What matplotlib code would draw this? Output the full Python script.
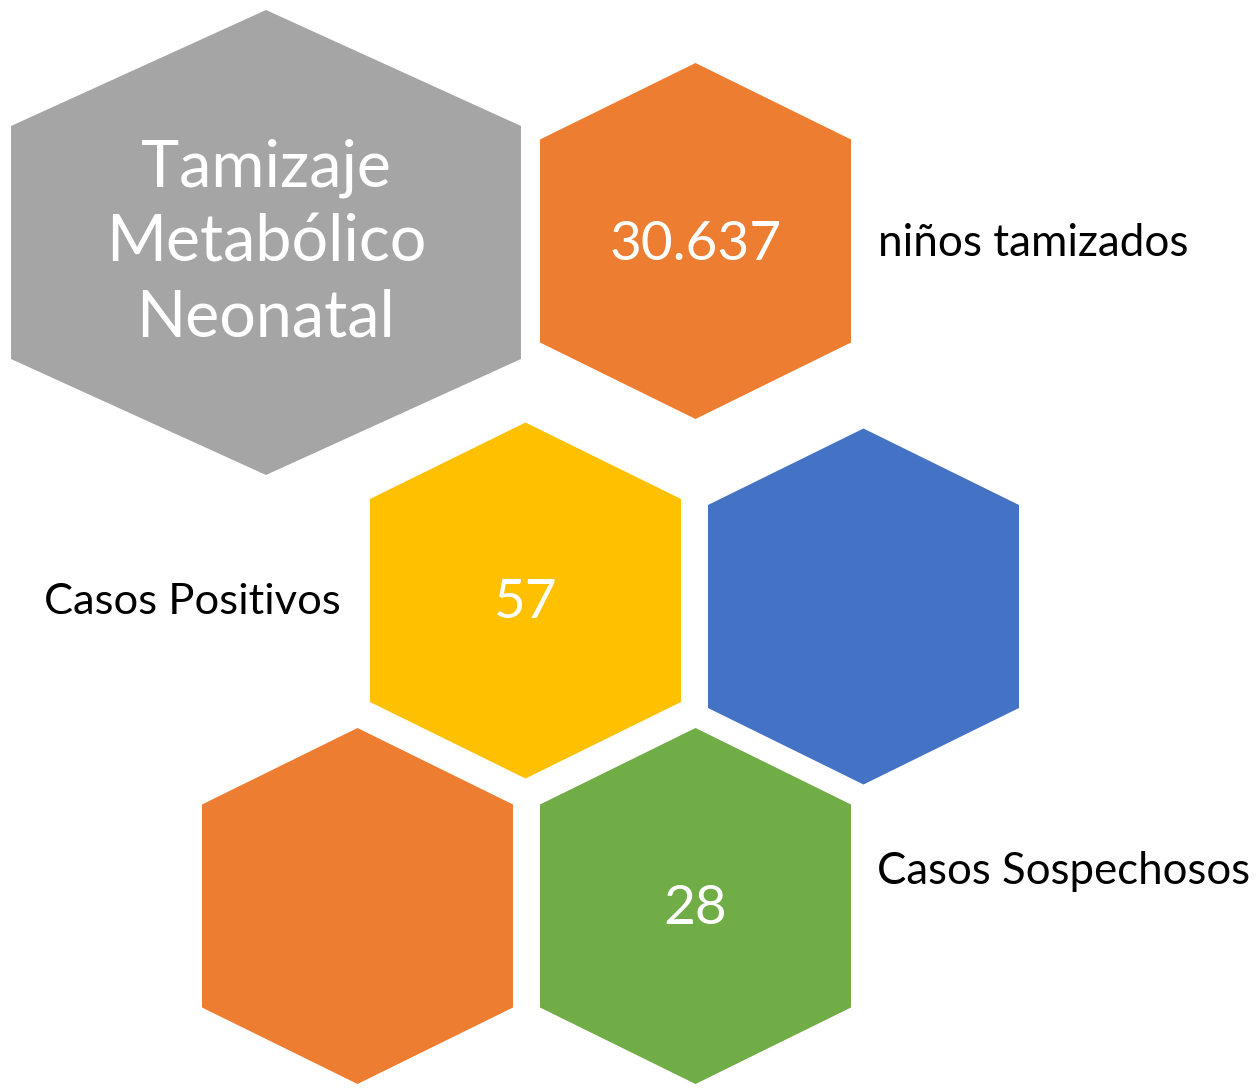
import matplotlib.pyplot as plt
from matplotlib.patches import Polygon

plt.rcParams['font.family'] = ['Lato', 'DejaVu Sans']

title_lines = ["Tamizaje", "Metabólico", "Neonatal"]
values = ["30.637", "57", "28"]
captions = ["niños tamizados", "Casos Positivos", "Casos Sospechosos"]
colors = ["#A5A5A5", "#ED7D31", "#FFC000", "#4472C4", "#ED7D31", "#70AD47"]


def hexagon(ax, cx, cy, hw, hh, side, color):
    # pointy-top hexagon in pixel coords (y down)
    pts = [(cx, cy - hh), (cx + hw, cy - side), (cx + hw, cy + side),
           (cx, cy + hh), (cx - hw, cy + side), (cx - hw, cy - side)]
    ax.add_patch(Polygon(pts, closed=True, facecolor=color, edgecolor="none"))


W, H = 1256, 1088
fig = plt.figure(figsize=(W / 100, H / 100), dpi=100)
ax = fig.add_axes([0, 0, 1, 1])
ax.set_xlim(0, W)
ax.set_ylim(H, 0)
ax.axis("off")

# big grey hexagon
hexagon(ax, 266, 242.5, 255, 232.5, 116.5, colors[0])
# small hexagons: centres
small = [(695.5, 241), (525.5, 600.5), (863.5, 606.5), (357.5, 906), (695.5, 906)]
for (cx, cy), c in zip(small, colors[1:]):
    hexagon(ax, cx, cy, 155.5, 178, 101.5, c)

for i, line in enumerate(title_lines):
    ax.text(266, 168 + 75 * i, line, color="white", fontsize=46.5,
            ha="center", va="center")

ax.text(695.5, 244, values[0], color="white", fontsize=39.5, ha="center", va="center")
ax.text(525.5, 603, values[1], color="white", fontsize=39.5, ha="center", va="center")
ax.text(695.5, 909, values[2], color="white", fontsize=39.5, ha="center", va="center")

ax.text(878, 243, captions[0], color="black", fontsize=31.8, ha="left", va="center")
ax.text(341, 602, captions[1], color="black", fontsize=31.3, ha="right", va="center")
ax.text(877, 871, captions[2], color="black", fontsize=31.5, ha="left", va="center")

fig.savefig("out.png", dpi=100)
